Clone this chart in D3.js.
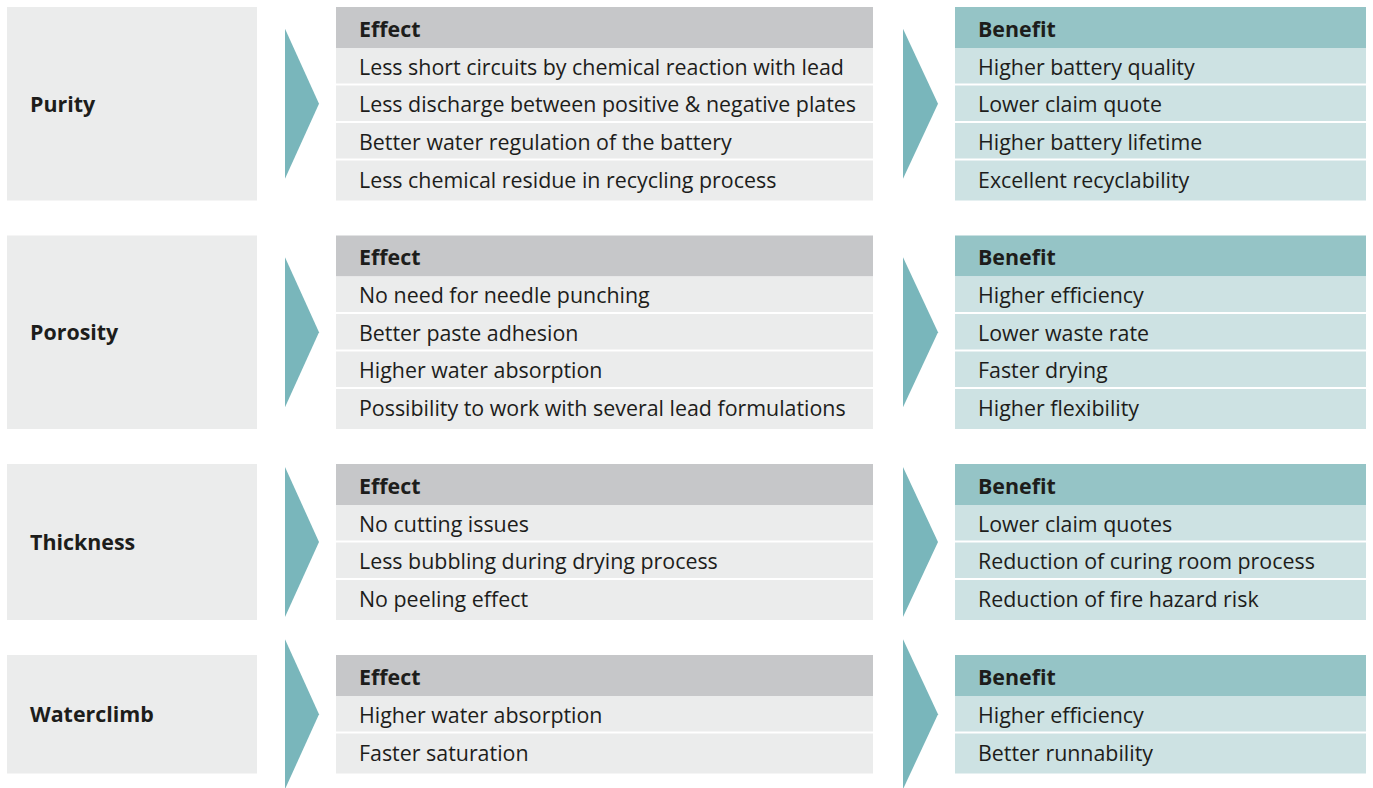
<!DOCTYPE html>
<html>
<meta charset="utf-8">
<title>effect benefit</title>
<style>
html,body{
  margin:0;
  background:#fff;
}
text {
  font-family: "Open Sans", sans-serif;
  fill: #1d1d1b;
}
</style>
<script src="https://d3js.org/d3.v7.min.js"></script>
<body>
<script>

var properties = ["Purity", "Porosity", "Thickness", "Waterclimb"];

var effects = [
  ["Less short circuits by chemical reaction with lead",
   "Less discharge between positive & negative plates",
   "Better water regulation of the battery",
   "Less chemical residue in recycling process"],
  ["No need for needle punching",
   "Better paste adhesion",
   "Higher water absorption",
   "Possibility to work with several lead formulations"],
  ["No cutting issues",
   "Less bubbling during drying process",
   "No peeling effect"],
  ["Higher water absorption",
   "Faster saturation"]
];

var benefits = [
  ["Higher battery quality",
   "Lower claim quote",
   "Higher battery lifetime",
   "Excellent recyclability"],
  ["Higher efficiency",
   "Lower waste rate",
   "Faster drying",
   "Higher flexibility"],
  ["Lower claim quotes",
   "Reduction of curing room process",
   "Reduction of fire hazard risk"],
  ["Higher efficiency",
   "Better runnability"]
];

var headers = ["Effect", "Benefit"];

var width = 1373, height = 788;
var headH = 41, rowH = 37.5, lastH = 40, gap = 35, top0 = 7;
var fs = "21.4px";

// stack the groups vertically
var groups = [];
var y0 = top0;
properties.forEach(function(p, i){
  var h = headH + rowH * (effects[i].length - 1) + lastH;
  groups.push({name: p, i: i, y: y0, h: h});
  y0 += h + gap;
});

var cols = {
  label:  {x0: 7,   x1: 257},
  arrow1: {x0: 285, x1: 319},
  effect: {x0: 336, x1: 873},
  arrow2: {x0: 903, x1: 938},
  benefit:{x0: 955, x1: 1366}
};

var svg = d3.select("body").append("svg")
    .attr("width", width)
    .attr("height", height);

var g = svg.selectAll("g.group")
    .data(groups)
  .enter().append("g")
    .attr("class", "group")
    .attr("transform", function(d){ return "translate(0," + d.y + ")"; });

// left label box
g.append("rect")
    .attr("x", cols.label.x0)
    .attr("width", cols.label.x1 - cols.label.x0)
    .attr("height", function(d){ return d.h; })
    .attr("fill", "#ebecec");

g.append("text")
    .attr("x", cols.label.x0 + 23)
    .attr("y", function(d){ return d.h / 2; })
    .attr("dy", "0.38em")
    .style("font-size", fs)
    .style("font-weight", "bold")
    .text(function(d){ return d.name; });

// arrows
var arrowH = 150;
[cols.arrow1, cols.arrow2].forEach(function(c){
  g.append("path")
    .attr("d", function(d){
      var cy = d.h / 2;
      return "M" + c.x0 + "," + (cy - arrowH / 2) +
             "L" + c.x1 + "," + cy +
             "L" + c.x0 + "," + (cy + arrowH / 2) + "Z";
    })
    .attr("fill", "#79b6bb");
});

// tables
function table(col, lists, headFill, rowFill, title){
  var t = g.append("g");
  t.append("rect")
      .attr("x", col.x0)
      .attr("width", col.x1 - col.x0)
      .attr("height", headH)
      .attr("fill", headFill);
  t.append("text")
      .attr("x", col.x0 + 23)
      .attr("y", headH / 2 + 1)
      .attr("dy", "0.38em")
      .style("font-size", fs)
      .style("font-weight", "bold")
      .text(title);

  var rows = t.selectAll("g.row")
      .data(function(d){ return lists[d.i].map(function(s, j){ return {s: s, j: j, n: lists[d.i].length}; }); })
    .enter().append("g")
      .attr("class", "row")
      .attr("transform", function(r){ return "translate(0," + (headH + r.j * rowH) + ")"; });

  rows.append("rect")
      .attr("x", col.x0)
      .attr("width", col.x1 - col.x0)
      .attr("height", function(r){ return r.j == r.n - 1 ? lastH : rowH - 2; })
      .attr("fill", rowFill);

  rows.append("text")
      .attr("x", col.x0 + 23)
      .attr("y", function(r){ return r.j == r.n - 1 ? lastH / 2 - 1 : (rowH - 2) / 2 + 1; })
      .attr("dy", "0.38em")
      .style("font-size", fs)
      .text(function(r){ return r.s; });
}

table(cols.effect, effects, "#c6c7c9", "#ebecec", headers[0]);
table(cols.benefit, benefits, "#95c4c6", "#cde2e3", headers[1]);

</script>
</body>
</html>
